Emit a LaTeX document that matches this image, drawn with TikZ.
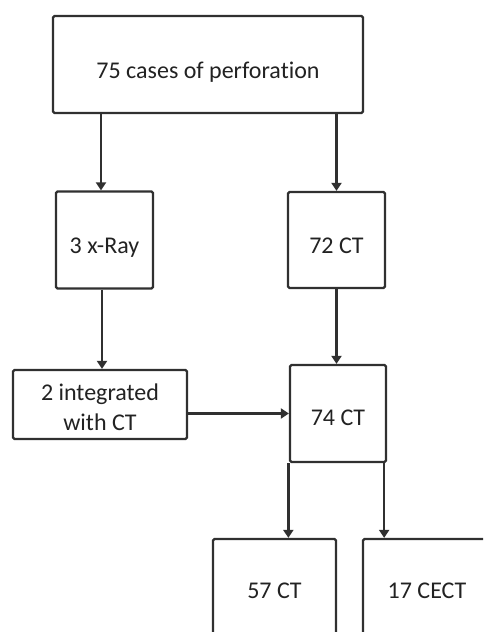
\documentclass[tikz,border=0pt]{standalone}
\usepackage{fontspec}
\setmainfont{Carlito}[Ligatures=NoCommon]
\usetikzlibrary{arrows.meta}
\definecolor{linec}{HTML}{303030}
\definecolor{textc}{HTML}{222222}
\newcommand{\lowtext}[2]{\raisebox{-#1pt}[0pt][0pt]{#2}}
\tikzset{
  box/.style={draw=linec, line width=2.3pt, rounded corners=1.5pt, fill=white, inner sep=0pt,
    align=center, text=textc, font=\fontsize{24}{30}\selectfont},
  arr/.style={draw=linec, line width=2.3pt, -{Triangle[width=10pt,length=8pt]}}
}
\begin{document}
\begin{tikzpicture}[x=1pt,y=-1pt]
\useasboundingbox (0,0) rectangle (483,632);
\clip (0,0) rectangle (483,632);
\node[box, minimum width=310pt, minimum height=97pt] (top) at (208,64.5) {\lowtext{13.5}{75 cases of perforation}};
\node[box, minimum width=97pt, minimum height=97pt] (xray) at (104.5,240) {\lowtext{13}{3 x-Ray}};
\node[box, minimum width=97pt, minimum height=96pt] (ct72) at (336.5,240) {\lowtext{13}{72 CT}};
\node[box, minimum width=174pt, minimum height=69pt] (integ) at (100,404.5) {\lowtext{11.5}{\begin{tabular}{@{}c@{}}2 integrated\\with CT\end{tabular}}};
\node[box, minimum width=96pt, minimum height=97pt] (ct74) at (338,413.5) {\lowtext{11.5}{74 CT}};
\node[box, minimum width=123pt, minimum height=102pt] (ct57) at (274.5,590) {\lowtext{8}{57 CT}};
\node[box, minimum width=128pt, minimum height=102pt] (cect) at (427,590) {\lowtext{8}{17 CECT}};
\draw[arr] ([xshift=-3.5pt]top.south -| xray.north) -- ([xshift=-3.5pt]xray.north);
\draw[arr] (top.south -| ct72.north) -- (ct72.north);
\draw[arr] ([xshift=-2.5pt]xray.south) -- ([xshift=-2.5pt]xray.south |- integ.north);
\draw[arr] (ct72.south) -- (ct72.south |- ct74.north);
\draw[arr] (integ.east |- ct74.west) -- (ct74.west);
\draw[arr] ([xshift=-0.5pt]ct74.south west) -- ([xshift=-0.5pt]ct74.south west |- ct57.north);
\draw[arr] ([xshift=-3pt]ct74.south east) -- ([xshift=-3pt]ct74.south east |- cect.north);
\end{tikzpicture}
\end{document}
